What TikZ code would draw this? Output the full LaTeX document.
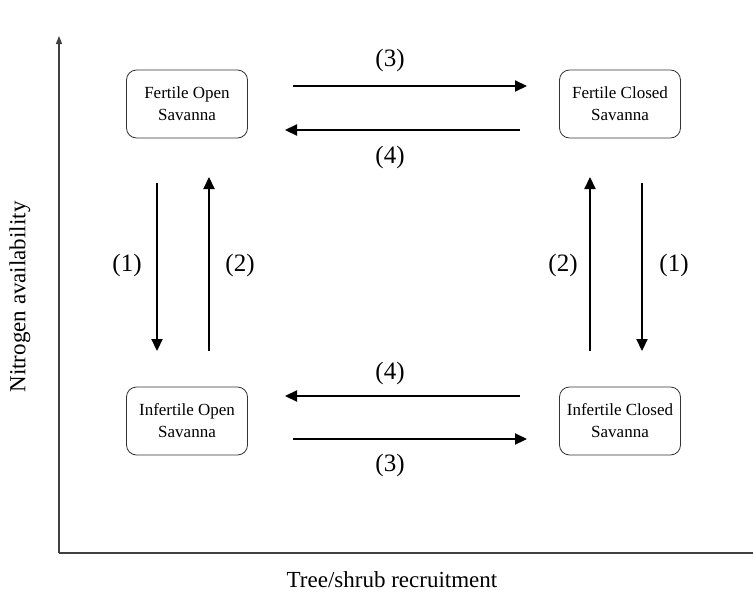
\documentclass[tikz,border=0pt]{standalone}
\usepackage{fontspec}
\setmainfont{Liberation Serif}
\usetikzlibrary{arrows.meta}
\begin{document}
\begin{tikzpicture}[x=1pt,y=-1pt,
  statebox/.style={draw=black!80,line width=0.8pt,rounded corners=10pt,minimum width=121pt,minimum height=68pt,align=center,font=\fontsize{17}{22}\selectfont,inner sep=1pt},
  flow/.style={line width=2.2pt,-{Triangle[length=12pt,width=11pt]}},
  lab/.style={font=\fontsize{25}{27}\selectfont},
  axlab/.style={font=\fontsize{23}{25}\selectfont},
  axis/.style={line width=1.2pt,draw=black!75}]
\useasboundingbox (0,0) rectangle (753,592);
\node[statebox] (fo) at (187,104) {Fertile Open\\Savanna};
\node[statebox] (fc) at (620,104) {Fertile Closed\\Savanna};
\node[statebox] (io) at (187,421) {Infertile Open\\Savanna};
\node[statebox] (ic) at (620,421) {Infertile Closed\\Savanna};
% horizontal arrows
\coordinate (t3s) at (293,86); \coordinate (t3e) at (527,86);
\coordinate (t4s) at (520,130); \coordinate (t4e) at (285,130);
\coordinate (b4s) at (520,396); \coordinate (b4e) at (285,396);
\coordinate (b3s) at (293,439); \coordinate (b3e) at (527,439);
\draw[flow] (t3s) -- (t3e);
\draw[flow] (t4s) -- (t4e);
\draw[flow] (b4s) -- (b4e);
\draw[flow] (b3s) -- (b3e);
% vertical arrows
\coordinate (l1s) at (157,183); \coordinate (l1e) at (157,351);
\coordinate (l2s) at (209,351); \coordinate (l2e) at (209,177);
\coordinate (r2s) at (590,351); \coordinate (r2e) at (590,177);
\coordinate (r1s) at (642,183); \coordinate (r1e) at (642,351);
\draw[flow] (l1s) -- (l1e);
\draw[flow] (l2s) -- (l2e);
\draw[flow] (r2s) -- (r2e);
\draw[flow] (r1s) -- (r1e);
% labels
\node[lab] (lt3) at (390,60) {(3)};
\node[lab] (lt4) at (390,157) {(4)};
\node[lab] (lb4) at (390,373) {(4)};
\node[lab] (lb3) at (390,465) {(3)};
\node[lab] (ll1) at (127,265) {(1)};
\node[lab] (ll2) at (240,265) {(2)};
\node[lab] (lr2) at (563,265) {(2)};
\node[lab] (lr1) at (674,265) {(1)};
% axes
\coordinate (org) at (59,553);
\coordinate (ytop) at (59,36);
\coordinate (xend) at (753,553);
\draw[axis,-{Triangle[length=8pt,width=6pt]}] (org) -- (ytop);
\draw[axis] (org) -- (xend);
\node[axlab,rotate=90] (ylab) at (20,297) {Nitrogen availability};
\node[axlab] (xlab) at (392,580) {Tree/shrub recruitment};
\end{tikzpicture}
\end{document}
